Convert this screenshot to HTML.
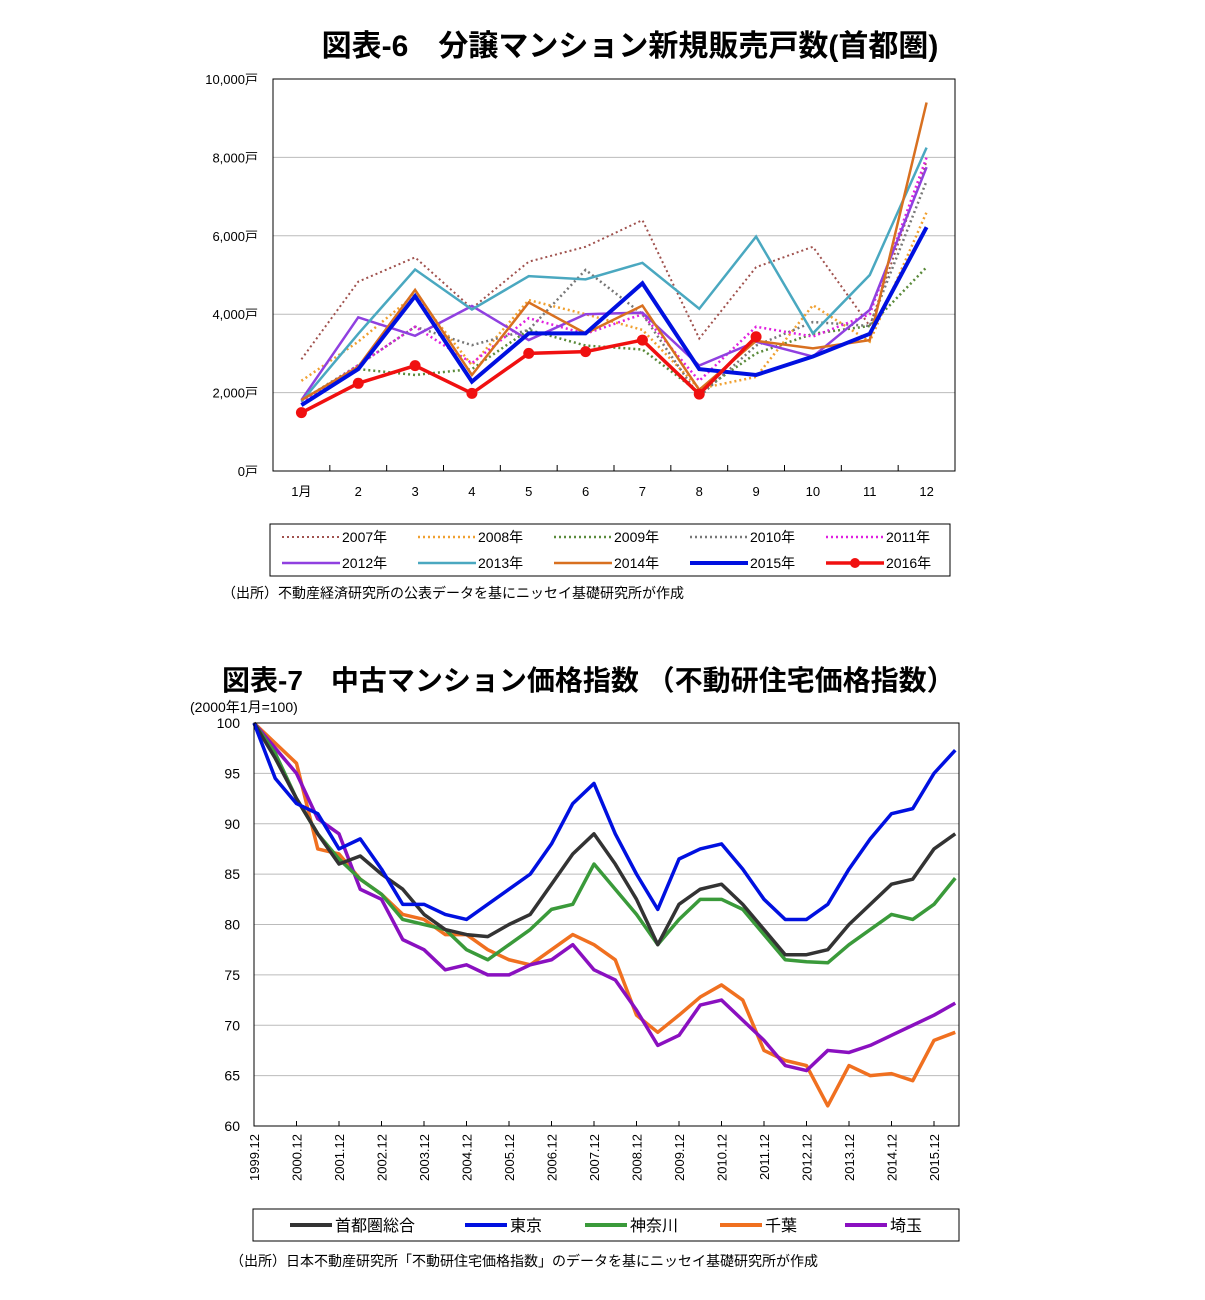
<!DOCTYPE html>
<html><head><meta charset="utf-8"><style>
body{margin:0;background:#fff;width:1205px;height:1300px;overflow:hidden;font-family:"Liberation Sans","Noto Sans CJK JP",sans-serif}
svg{position:absolute;left:0;top:0}
text{font-family:"Liberation Sans","Noto Sans CJK JP",sans-serif}
</style></head><body>
<svg id="s" width="1205" height="1300">
<text x="630" y="56" text-anchor="middle" font-size="30" font-weight="bold">図表-6　分譲マンション新規販売戸数(首都圏)</text>
<text x="222" y="690" font-size="28" font-weight="bold">図表-7　中古マンション価格指数 （不動研住宅価格指数）</text>
<text x="222" y="598" font-size="14">（出所）不動産経済研究所の公表データを基にニッセイ基礎研究所が作成</text>
<text x="230" y="1266" font-size="14">（出所）日本不動産研究所「不動研住宅価格指数」のデータを基にニッセイ基礎研究所が作成</text>
<text x="190" y="712" font-size="14">(2000年1月=100)</text>
<g id="c1"></g><g id="c2"></g>
</svg>
<script>
const months=['1月','2','3','4','5','6','7','8','9','10','11','12'];
const y1Ticks=[0,2000,4000,6000,8000,10000];
const y1Labels=['0戸','2,000戸','4,000戸','6,000戸','8,000戸','10,000戸'];
const s2007=[2850,4830,5450,4150,5340,5720,6400,3380,5200,5720,3700,7900];
const s2008=[2300,3300,4500,2700,4360,4000,3600,2100,2400,4230,3300,6600];
const s2009=[1800,2600,2450,2600,3600,3200,3100,2000,3000,3500,3700,5200];
const s2010=[1800,2700,3680,3210,3600,5130,4000,1900,3200,3800,3700,7400];
const s2011=[1750,2700,3680,2750,3900,3500,4000,2300,3680,3430,4000,8000];
const s2012=[1810,3920,3450,4210,3340,4000,4040,2690,3300,2920,4110,7750];
const s2013=[1770,3500,5140,4120,4970,4890,5310,4140,5980,3510,5000,8250];
const s2014=[1810,2660,4620,2450,4300,3510,4220,2070,3320,3130,3340,9400];
const s2015=[1680,2600,4460,2280,3510,3510,4790,2600,2450,2920,3500,6220];
const s2016=[1488,2237,2687,1980,3000,3045,3340,1960,3425];

const dates=['1999.12','2000.12','2001.12','2002.12','2003.12','2004.12','2005.12','2006.12','2007.12','2008.12','2009.12','2010.12','2011.12','2012.12','2013.12','2014.12','2015.12'];
const y2Ticks=[60,65,70,75,80,85,90,95,100];
const shutoken=[100,96.5,92.5,89,86,86.8,85,83.5,81,79.5,79,78.8,80,81,84,87,89,86,82.5,78,82,83.5,84,82,79.5,77,77,77.5,80,82,84,84.5,87.5,89];
const tokyo=[100,94.5,92,91,87.5,88.5,85.5,82,82,81,80.5,82,83.5,85,88,92,94,89,85,81.5,86.5,87.5,88,85.5,82.5,80.5,80.5,82,85.5,88.5,91,91.5,95,97.3];
const kanagawa=[100,97,92.5,89,86.5,84.5,83,80.5,80,79.5,77.5,76.5,78,79.5,81.5,82,86,83.5,81,78,80.5,82.5,82.5,81.5,79,76.5,76.3,76.2,78,79.5,81,80.5,82,84.6];
const chiba=[100,98,96,87.5,87,84.5,83,81,80.5,79,79,77.5,76.5,76,77.5,79,78,76.5,71,69.3,71,72.8,74,72.5,67.5,66.5,66,62,66,65,65.2,64.5,68.5,69.3];
const saitama=[100,97.5,95,90.5,89,83.5,82.5,78.5,77.5,75.5,76,75,75,76,76.5,78,75.5,74.5,71.5,68,69,72,72.5,70.5,68.5,66,65.5,67.5,67.3,68,69,70,71,72.2];

const NS='http://www.w3.org/2000/svg';
function mk(p,t,a){const e=document.createElementNS(NS,t);for(const k in a)e.setAttribute(k,a[k]);p.appendChild(e);return e;}
const c1=document.getElementById('c1'),c2=document.getElementById('c2');

const L1=273,R1=955,T1=79,B1=471;
const x1=i=>L1+(R1-L1)/12*(i+0.5);
const y1=v=>B1-(B1-T1)*v/10000;
y1Ticks.forEach((v,i)=>{
 if(v>0&&v<10000){const g=mk(c1,'line',{x1:L1,x2:R1,y1:y1(v),y2:y1(v),stroke:'#bbb'});
 
 }
 const t=mk(c1,'text',{x:258,y:y1(v)+5,'text-anchor':'end','font-size':13});t.textContent=y1Labels[i];
 
 
});
months.forEach((m,i)=>{
 const t=mk(c1,'text',{x:x1(i),y:496,'text-anchor':'middle','font-size':13});t.textContent=m;
 
 
 const tk=mk(c1,'line',{x1:L1+(R1-L1)/12*(i+1),x2:L1+(R1-L1)/12*(i+1),y1:B1,y2:B1-6,stroke:'#000'});
 
 
});
const fr=mk(c1,'rect',{x:L1,y:T1,width:R1-L1,height:B1-T1,fill:'none',stroke:'#000'});


const ser1=[
 ['2007年',s2007,'#a0524e',2,'2 3'],['2008年',s2008,'#f0a030',2.5,'2 3'],['2009年',s2009,'#5a8a3a',2.5,'2 3'],['2010年',s2010,'#777',2.5,'2 3'],['2011年',s2011,'#e020e0',2.5,'2 3'],
 ['2012年',s2012,'#9040e0',2.5,''],['2013年',s2013,'#4aa8c0',2.5,''],['2014年',s2014,'#d87020',2.5,''],['2015年',s2015,'#0010e0',4,''],['2016年',s2016,'#f01010',3.5,'']];
ser1.forEach((s,k)=>{
 const p=mk(c1,'polyline',{points:s[1].map((v,i)=>x1(i)+','+y1(v)).join(' '),fill:'none',stroke:s[2],'stroke-width':s[3],'stroke-dasharray':s[4]});
 
 
 if(k===9)s[1].forEach((v,i)=>{const c=mk(c1,'circle',{cx:x1(i),cy:y1(v),r:5.5,fill:s[2]});
  
  });
 const col=k%5,row=Math.floor(k/5);const lx=282+col*136,ly=537+row*26;
 const ll=mk(c1,'line',{x1:lx,x2:lx+58,y1:ly,y2:ly,stroke:s[2],'stroke-width':s[3],'stroke-dasharray':s[4]});
 
 
 if(k===9){const c=mk(c1,'circle',{cx:lx+29,cy:ly,r:5,fill:s[2]});}
 const t=mk(c1,'text',{x:lx+60,y:ly+5,'font-size':14});t.textContent=s[0];
 
 
});
const lb=mk(c1,'rect',{x:270,y:524,width:680,height:52,fill:'none',stroke:'#000'});



const L2=254,R2=959,T2=723,B2=1126;
const x2=m=>L2+m*42.5/12;
const y2=v=>B2-(B2-T2)*(v-60)/40;
y2Ticks.forEach(v=>{
 if(v>60&&v<100){const g=mk(c2,'line',{x1:L2,x2:R2,y1:y2(v),y2:y2(v),stroke:'#bbb'});
 
 }
 const t=mk(c2,'text',{x:240,y:y2(v)+5,'text-anchor':'end','font-size':14});t.textContent=v;
 
 
});
dates.forEach((d,i)=>{
 const xx=x2(i*12);
 const tk=mk(c2,'line',{x1:xx,x2:xx,y1:B2,y2:B2-5,stroke:'#000'});
 
 
 const t=mk(c2,'text',{x:0,y:0,'text-anchor':'end','font-size':13,transform:'translate('+(xx+5)+',1134) rotate(-90)'});t.textContent=d;
 
 
});
const ser2=[['首都圏総合',shutoken,'#333'],['東京',tokyo,'#0010e0'],['神奈川',kanagawa,'#3a9a3a'],['千葉',chiba,'#f07020'],['埼玉',saitama,'#8a10c0']];
[3,4,2,0,1].forEach(k=>{const s=ser2[k];
 const p=mk(c2,'polyline',{points:s[1].map((v,i)=>x2(Math.min(i*6,199))+','+y2(v)).join(' '),fill:'none',stroke:s[2],'stroke-width':3.5,'stroke-linejoin':'round'});
 
 
});
const fr2=mk(c2,'rect',{x:L2,y:T2,width:R2-L2,height:B2-T2,fill:'none',stroke:'#000'});


const lg=mk(c2,'rect',{x:253,y:1209,width:706,height:32,fill:'none',stroke:'#000'});


const lxs=[290,465,585,720,845];
ser2.forEach((s,k)=>{
 const ll=mk(c2,'line',{x1:lxs[k],x2:lxs[k]+42,y1:1225,y2:1225,stroke:s[2],'stroke-width':4});
 
 
 const t=mk(c2,'text',{x:lxs[k]+45,y:1231,'font-size':16});t.textContent=s[0];
 
 
});
</script>
</body></html>
